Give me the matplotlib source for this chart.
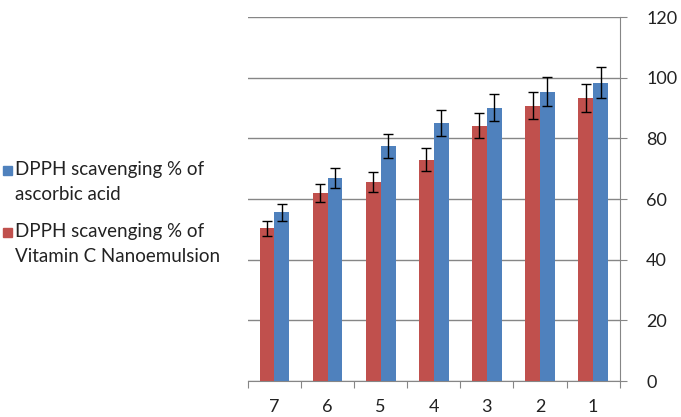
import matplotlib.pyplot as plt
import numpy as np

plt.rcParams['font.family'] = ['Lato', 'DejaVu Sans']

categories = ['7', '6', '5', '4', '3', '2', '1']
ascorbic = [55.7, 67.0, 77.5, 85.0, 90.2, 95.4, 98.4]
ascorbic_err = [2.8, 3.4, 3.9, 4.3, 4.5, 4.8, 5.0]
nano = [50.4, 62.0, 65.5, 73.0, 84.2, 90.8, 93.4]
nano_err = [2.5, 3.1, 3.3, 3.7, 4.2, 4.5, 4.7]

label_asc = 'DPPH scavenging % of\nascorbic acid'
label_nano = 'DPPH scavenging % of\nVitamin C Nanoemulsion'

x = np.arange(len(categories))
width = 0.28
grey = '#868686'
blue = '#4F81BD'
red = '#C0504D'

W, H = 681, 417
fig = plt.figure(figsize=(W / 100, H / 100), dpi=100)
ax = fig.add_axes([0.364, 0.086, 0.546, 0.873])

err_kw = dict(ecolor='black', elinewidth=1, capsize=3.5, capthick=1)
ax.bar(x - width / 2, nano, width, yerr=nano_err, color=red,
       error_kw=err_kw, zorder=3)
ax.bar(x + width / 2, ascorbic, width, yerr=ascorbic_err, color=blue,
       error_kw=err_kw, zorder=3)

ax.set_xlim(-0.5, len(categories) - 0.5)
ax.set_ylim(0, 120)
ax.set_yticks(np.arange(0, 121, 20))
ax.yaxis.tick_right()
ax.yaxis.grid(True, color=grey, linewidth=1, zorder=0)
ax.tick_params(axis='y', which='major', direction='out', length=5, color=grey,
               labelsize=13, pad=14, colors='#222222')

# ticks between groups, labels at group centres
ax.set_xticks(np.arange(len(categories) + 1) - 0.5)
ax.set_xticklabels([])
ax.tick_params(axis='x', which='major', direction='out', length=5, color=grey)
ax.set_xticks(x, minor=True)
ax.set_xticklabels(categories, minor=True)
ax.tick_params(axis='x', which='minor', length=0, labelsize=13, pad=13, colors='#222222')

for s in ['top', 'left']:
    ax.spines[s].set_visible(False)
ax.spines['right'].set_color(grey)
ax.spines['bottom'].set_color(grey)

# legend drawn by hand: square aligned with first line of each label
for col, lab, ytop in [(blue, label_asc, 170), (red, label_nano, 232)]:
    fig.patches.append(plt.Rectangle((3 / W, 1 - (ytop + 4.5) / H), 9 / W, 9 / H,
                                     transform=fig.transFigure, color=col))
    l1, l2 = lab.split('\n')
    fig.text(15 / W, 1 - ytop / H, l1, fontsize=13.5, color='#222222', va='center')
    fig.text(15 / W, 1 - (ytop + 25) / H, l2, fontsize=13.5, color='#222222', va='center')

fig.savefig('out.png', dpi=100)
